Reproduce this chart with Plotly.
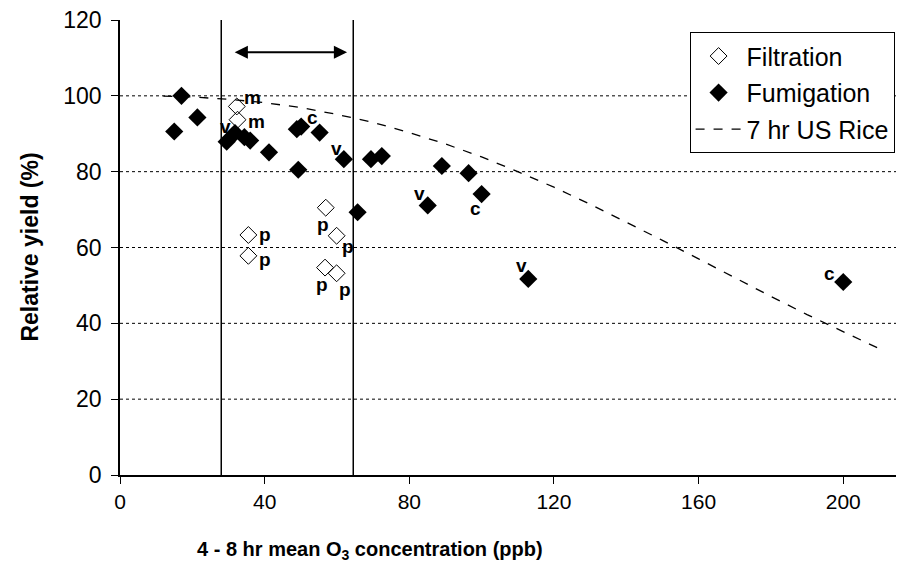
import plotly.graph_objects as go

# Filtration (open diamonds)
filt_x = [32.3, 32.5, 35.5, 35.5, 56.9, 59.9, 56.7, 59.9]
filt_y = [97.2, 93.7, 63.3, 57.8, 70.5, 63.1, 54.7, 53.2]
filt_lab = ["m", "m", "p", "p", "p", "p", "p", "p"]

# Fumigation (filled diamonds)
fum_x = [15.0, 17.0, 21.4, 29.5, 31.8, 34.4, 36.0, 41.2, 48.9, 50.1, 49.3, 55.2,
         61.9, 65.7, 69.4, 72.4, 85.1, 89.0, 96.4, 100.0, 112.9, 200.0]
fum_y = [90.6, 100.0, 94.3, 87.9, 90.2, 89.1, 88.2, 85.1, 91.2, 91.9, 80.5, 90.3,
         83.3, 69.3, 83.3, 84.1, 71.1, 81.5, 79.6, 74.1, 51.7, 50.9]
fum_lab = ["", "", "", "v", "", "", "", "", "", "c", "", "",
           "v", "", "", "", "v", "", "", "c", "v", "c"]

# label offsets (pixels, style only)
filt_off = [(16, 9), (19, -2), (17, 0), (17, -4), (-3, -17), (11, -11), (-3, -17), (8, -16)]
fum_off = {3: (-1, 15), 9: (11, 9), 12: (-7, 11), 16: (-8, 12), 19: (-6, -14), 20: (-7, 13), 21: (-14, 9)}

# 7 hr US Rice curve
rice_x = [12, 20, 30, 40, 50, 60, 70, 80, 90, 100, 110, 120, 130, 140, 150, 160, 170, 180, 190, 200, 210]
rice_y = [99.9, 99.7, 99.1, 98.2, 96.9, 95.1, 93.0, 90.3, 87.3, 83.9, 80.0, 75.9, 71.4, 66.7, 61.9,
          57.0, 52.0, 47.1, 42.3, 37.7, 33.3]

window_bounds = [28, 64.5]
arrow_x = [31.3, 62.8]
arrow_y = 111.5
grid_y = [20, 40, 60, 80, 100]
x_ticks = [0, 40, 80, 120, 160, 200]
y_ticks = [0, 20, 40, 60, 80, 100, 120]

FONT = "Liberation Sans, Arial, sans-serif"
LABFONT = dict(family=FONT, size=19, color="black", weight="bold")

fig = go.Figure()

fig.add_trace(go.Scatter(
    x=filt_x, y=filt_y, mode="markers", name="Filtration", legendgroup="a",
    marker=dict(symbol="diamond-open", size=13, color="black", line=dict(width=1)),
))
fig.add_trace(go.Scatter(
    x=fum_x, y=fum_y, mode="markers", name="Fumigation", legendgroup="b",
    marker=dict(symbol="diamond", size=14, color="black"),
))
fig.add_trace(go.Scatter(
    x=rice_x, y=rice_y, mode="lines", name="7 hr US Rice", legendgroup="c",
    line=dict(color="black", width=1.3, dash="dash"),
))

shapes = []
for gy in grid_y:
    shapes.append(dict(type="line", xref="x domain", yref="y", x0=0, x1=1, y0=gy, y1=gy,
                       line=dict(color="black", width=1, dash="dot"), layer="below"))
for wx in window_bounds:
    shapes.append(dict(type="line", xref="x", yref="y", x0=wx, x1=wx, y0=0, y1=120,
                       line=dict(color="black", width=1.5)))

annotations = [
    dict(x=arrow_x[1], y=arrow_y, ax=arrow_x[0], ay=arrow_y,
         xref="x", yref="y", axref="x", ayref="y", text="",
         showarrow=True, arrowhead=2, arrowside="end+start",
         arrowsize=1.2, arrowwidth=2.2, arrowcolor="black"),
    dict(text="4 - 8 hr mean O<sub>3</sub> concentration (ppb)", xref="paper", yref="paper",
         x=0.319, y=-0.166, xanchor="center", yanchor="middle", showarrow=False,
         font=dict(family=FONT, size=20, weight="bold", color="black")),
    dict(text="Relative yield (%)", xref="paper", yref="paper",
         x=-0.116, y=0.5, xanchor="center", yanchor="middle", showarrow=False, textangle=-90,
         font=dict(family=FONT, size=23, weight="bold", color="black")),
]
for i, lab in enumerate(filt_lab):
    dx, dy = filt_off[i]
    annotations.append(dict(x=filt_x[i], y=filt_y[i], xref="x", yref="y", text=lab,
                            showarrow=False, xshift=dx, yshift=dy, font=LABFONT, borderpad=0))
for i, lab in enumerate(fum_lab):
    if lab:
        dx, dy = fum_off[i]
        annotations.append(dict(x=fum_x[i], y=fum_y[i], xref="x", yref="y", text=lab,
                                showarrow=False, xshift=dx, yshift=dy, font=LABFONT, borderpad=0))

fig.update_layout(
    width=904, height=563,
    margin=dict(l=112, r=8, t=12, b=96),
    paper_bgcolor="white", plot_bgcolor="white",
    font=dict(family=FONT, color="black"),
    showlegend=True,
    legend=dict(x=0.7265, y=0.973, xanchor="left", yanchor="top",
                bordercolor="black", borderwidth=1, bgcolor="white",
                font=dict(family=FONT, size=25, color="black"),
                traceorder="grouped", tracegroupgap=1, itemwidth=46),
    shapes=shapes,
    annotations=annotations,
)

fig.update_xaxes(range=[0, 216.8], tickvals=x_ticks, showgrid=False, zeroline=False,
                 showline=True, linecolor="black", linewidth=1.5, automargin=False,
                 ticks="outside", ticklen=7, tickcolor="black", ticklabeloverflow="allow",
                 tickfont=dict(family=FONT, size=21))
fig.update_yaxes(range=[0, 120], tickvals=y_ticks, showgrid=False, zeroline=False,
                 showline=True, linecolor="black", linewidth=1.5, automargin=False,
                 ticks="outside", ticklen=7, tickcolor="black", ticklabelstandoff=5,
                 ticklabeloverflow="allow",
                 tickfont=dict(family=FONT, size=23))

fig.write_html("out.html")
